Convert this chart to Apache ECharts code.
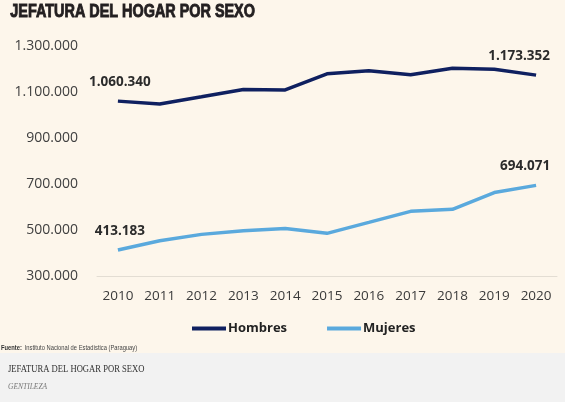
<!DOCTYPE html>
<html>
<head>
<meta charset="utf-8">
<script src="https://cdn.jsdelivr.net/npm/echarts@6/dist/echarts.min.js"></script>
<style>
html,body{margin:0;padding:0;background:#fdf6eb;}
#c{width:565px;height:402px;}
</style>
</head>
<body>
<div id="c"></div>
<script>
const years = ['2010','2011','2012','2013','2014','2015','2016','2017','2018','2019','2020'];
const hombres = [1060340, 1048000, 1079000, 1111000, 1109000, 1179000, 1192000, 1175000, 1203000, 1199000, 1173352];
const mujeres = [413183, 453000, 481000, 497000, 507000, 485500, 533000, 581000, 590000, 663000, 694071];
const yTicks = { min: 300000, max: 1300000, interval: 200000 };

function fmt(v){ return String(v).replace(/\B(?=(\d{3})+(?!\d))/g, '.'); }

function withLabels(arr, firstOffset, lastOffset){
  return arr.map((v,i)=>{
    if(i===0 || i===arr.length-1){
      return {value:v, label:{show:true, position:'top', distance:12,
        offset: i===0 ? firstOffset : lastOffset,
        formatter: p=>fmt(p.value), fontFamily:'Open Sans', fontWeight:'bold', fontSize:13.5, color:'#2b2b2b'}};
    }
    return v;
  });
}

const chart = echarts.init(document.getElementById('c'));
chart.setOption({
  backgroundColor:'#fdf6eb',
  animation:false,
  grid:{left:97, right:8, top:46, bottom:126},
  xAxis:{type:'category', data:years, boundaryGap:true,
    axisLine:{lineStyle:{color:'#e3ddd3', width:1}}, axisTick:{show:false},
    axisLabel:{margin:13, fontFamily:'Open Sans', fontSize:13.5, color:'#3a3a3a'}},
  yAxis:{type:'value', min:yTicks.min, max:yTicks.max, interval:yTicks.interval,
    splitLine:{show:false}, axisLine:{show:false}, axisTick:{show:false},
    axisLabel:{margin:19, formatter:v=>fmt(v), fontFamily:'Open Sans', fontSize:14, color:'#404040'}},
  legend:{left:187, top:317, itemWidth:34, itemHeight:4, itemGap:40, icon:'rect',
    textStyle:{fontFamily:'Open Sans', fontWeight:'bold', fontSize:13, color:'#222', padding:[0,0,0,-3]},
    data:['Hombres','Mujeres']},
  series:[
    {name:'Hombres', type:'line', data:withLabels(hombres,[2,0],[-17,0]), symbol:'circle', symbolSize:0, showSymbol:true,
      lineStyle:{width:3.5, color:'#0f2060'}, itemStyle:{color:'#0f2060'}},
    {name:'Mujeres', type:'line', data:withLabels(mujeres,[2,0],[-11,0]), symbol:'circle', symbolSize:0, showSymbol:true,
      lineStyle:{width:3.5, color:'#5aa9dd'}, itemStyle:{color:'#5aa9dd'}}
  ],
  graphic:[
    {type:'text', left:10, top:3, scaleX:0.8, style:{text:'JEFATURA DEL HOGAR POR SEXO', fontFamily:'Liberation Sans', fontWeight:'bold', fontSize:18, fill:'#231f20', stroke:'#231f20', lineWidth:0.9}},
    {type:'text', left:1, top:342, scaleX:0.85, style:{rich:{b:{fontWeight:'bold', fontSize:6.8, fontFamily:'Liberation Sans', fill:'#333'}, n:{fontSize:6.8, fontFamily:'Liberation Sans', fill:'#444'}},
      text:'{b|Fuente:} {n|Instituto Nacional de Estadística (Paraguay)}'}},
    {type:'rect', left:0, top:353, shape:{width:565, height:49}, style:{fill:'#f2f2f2'}},
    {type:'text', left:8, top:364, scaleX:0.86, style:{text:'JEFATURA DEL HOGAR POR SEXO', fontFamily:'Liberation Serif', fontSize:10, fill:'#333'}},
    {type:'text', left:8, top:383, style:{text:'GENTILEZA', fontFamily:'Liberation Serif', fontStyle:'italic', fontSize:7.5, fill:'#777'}}
  ]
});
</script>
</body>
</html>
